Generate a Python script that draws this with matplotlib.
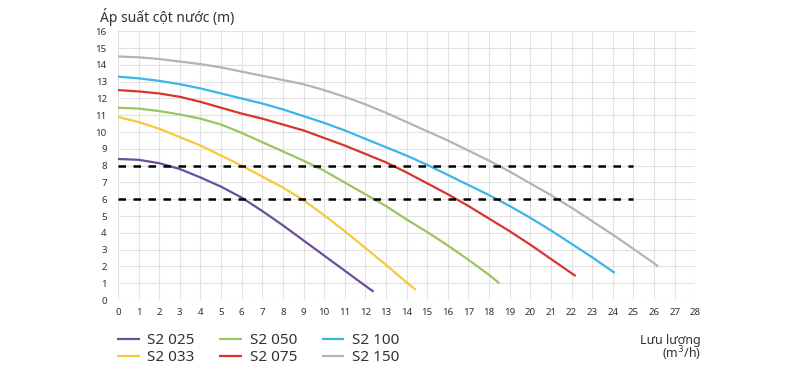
#!/usr/bin/env python3

import matplotlib.pyplot as plt

# flow (m3/h) vs head (m)
x_025 = [0, 1, 2, 3, 4, 5, 6, 7, 8, 9, 10, 11, 12, 12.4]
y_025 = [8.4, 8.35, 8.15, 7.8, 7.3, 6.75, 6.1, 5.3, 4.45, 3.55, 2.65, 1.75, 0.85, 0.5]

x_033 = [0, 1, 2, 3, 4, 5, 6, 7, 8, 9, 10, 11, 12, 13, 14, 14.45]
y_033 = [10.9, 10.6, 10.2, 9.7, 9.2, 8.6, 8.0, 7.35, 6.7, 5.95, 5.05, 4.1, 3.1, 2.1, 1.05, 0.6]

x_050 = [0, 1, 2, 3, 4, 5, 6, 7, 8, 9, 10, 11, 12, 13, 14, 15, 16, 17, 18, 18.5]
y_050 = [11.45, 11.4, 11.25, 11.05, 10.8, 10.45, 9.95, 9.4, 8.85, 8.3, 7.7, 7.0, 6.3, 5.6, 4.8,
         4.05, 3.25, 2.4, 1.5, 1.0]

x_075 = [0, 1, 2, 3, 4, 5, 6, 7, 8, 9, 10, 11, 12, 13, 14, 15, 16, 17, 18, 19, 20, 21, 22, 22.2]
y_075 = [12.5, 12.42, 12.3, 12.1, 11.8, 11.45, 11.1, 10.8, 10.45, 10.1, 9.65, 9.2, 8.7, 8.2,
         7.6, 6.95, 6.3, 5.6, 4.85, 4.1, 3.3, 2.45, 1.6, 1.43]

x_100 = [0, 1, 2, 3, 4, 5, 6, 7, 8, 9, 10, 11, 12, 13, 14, 15, 16, 17, 18, 19, 20, 21, 22, 23,
         24, 24.1]
y_100 = [13.3, 13.2, 13.05, 12.85, 12.6, 12.3, 12.0, 11.7, 11.35, 10.95, 10.55, 10.1, 9.6, 9.1,
         8.6, 8.05, 7.45, 6.85, 6.25, 5.6, 4.9, 4.15, 3.35, 2.55, 1.7, 1.63]

x_150 = [0, 1, 2, 3, 4, 5, 6, 7, 8, 9, 10, 11, 12, 13, 14, 15, 16, 17, 18, 19, 20, 21, 22, 23,
         24, 25, 26, 26.2]
y_150 = [14.5, 14.45, 14.35, 14.2, 14.05, 13.85, 13.6, 13.35, 13.1, 12.85, 12.5, 12.1, 11.65,
         11.15, 10.6, 10.05, 9.5, 8.9, 8.3, 7.65, 6.95, 6.25, 5.5, 4.7, 3.9, 3.05, 2.2, 2.0]

labels = ['S2 025', 'S2 033', 'S2 050', 'S2 075', 'S2 100', 'S2 150']
colors = ['#6b4e9e', '#f6c93c', '#9cc45f', '#d8352c', '#3db5e6', '#b4b4b4']

# reference head levels (dashed)
ref_levels = [8, 6]
ref_x = [0, 25]

plt.rcParams['font.family'] = ['Noto Sans', 'DejaVu Sans']
txt = '#333333'

fig = plt.figure(figsize=(8, 3.77), dpi=100)
ax = fig.add_axes([0.1475, 0.204, 0.7215, 0.713])

series = [(x_025, y_025), (x_033, y_033), (x_050, y_050),
          (x_075, y_075), (x_100, y_100), (x_150, y_150)]
handles = []
for (xs, ys), lab, c in zip(series, labels, colors):
    h, = ax.plot(xs, ys, color=c, lw=1.6, label=lab, solid_capstyle='butt', zorder=3)
    handles.append(h)

for lv in ref_levels:
    ax.plot(ref_x, [lv, lv], color='black', lw=1.8, dashes=(3, 3), zorder=4)

ax.set_xlim(0, 28)
ax.set_ylim(0, 16)
ax.set_xticks(range(0, 29))
ax.set_yticks(range(0, 17))
ax.grid(True, color='#e2e2e2', lw=0.8)
ax.set_axisbelow(True)
for s in ax.spines.values():
    s.set_visible(False)
ax.tick_params(length=0, labelsize=7, colors=txt)
ax.tick_params(axis='x', pad=6)
ax.tick_params(axis='y', pad=8)

fig.text(0.125, 0.955, 'Áp suất cột nước (m)', fontsize=10, color=txt, ha='left', va='center')
fig.text(0.876, 0.075, 'Lưu lượng\n(m$^3$/h)', fontsize=9, color=txt, ha='right', va='center',
         multialignment='right', linespacing=0.85)

fig.legend(handles=handles, labels=labels, ncol=3, loc='upper left',
           bbox_to_anchor=(0.146, 0.117), frameon=False, fontsize=11,
           handlelength=1.5, handletextpad=0.5, columnspacing=1.6, labelspacing=0.15,
           labelcolor=txt, borderpad=0, borderaxespad=0)

plt.savefig('out.png', dpi=100)
